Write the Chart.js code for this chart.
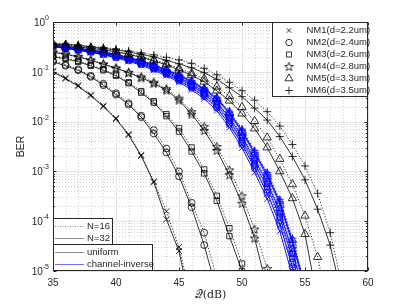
<!DOCTYPE html>
<html>
<head>
<meta charset="utf-8">
<script src="https://cdn.jsdelivr.net/npm/chart.js@4.4.1/dist/chart.umd.min.js"></script>
<style>
  html, body { margin: 0; padding: 0; background: #fff; }
  #wrap { width: 407px; height: 305px; }
</style>
</head>
<body>
<div id="wrap"><canvas id="ber" width="407" height="305"></canvas></div>
<script>
// SNR axis (dB), one point per dB starting at 35
const snr = [35, 36, 37, 38, 39, 40, 41, 42, 43, 44, 45, 46, 47, 48, 49, 50, 51, 52, 53, 54, 55, 56, 57, 58, 59, 60];
const xTicks = [35, 40, 45, 50, 55, 60];
const yDecades = [-5, -4, -3, -2, -1, 0];
const nmNames = ['NM1(d=2.2um)', 'NM2(d=2.4um)', 'NM3(d=2.6um)', 'NM4(d=2.8um)', 'NM5(d=3.3um)', 'NM6(d=3.5um)'];
const sizeNames = ['N=16', 'N=32'];
const schemeNames = ['uniform', 'channel-inverse'];

// log10(BER), uniform allocation
const uniNM1N32 = [-1.00, -1.14, -1.29, -1.48, -1.70, -1.95, -2.27, -2.69, -3.22, -3.96, -4.60, -5.80];
const uniNM1N16 = [-0.98, -1.12, -1.27, -1.46, -1.68, -1.93, -2.25, -2.67, -3.20, -3.80, -4.52, -5.60];
const uniNM2N32 = [-0.80, -0.88, -0.97, -1.10, -1.27, -1.46, -1.66, -1.91, -2.24, -2.62, -3.10, -3.72, -4.48, -5.40];
const uniNM2N16 = [-0.78, -0.86, -0.95, -1.08, -1.24, -1.43, -1.63, -1.88, -2.17, -2.54, -3.00, -3.63, -4.23, -5.15];
const uniNM3N32 = [-0.70, -0.74, -0.80, -0.88, -0.97, -1.08, -1.23, -1.42, -1.62, -1.89, -2.20, -2.60, -3.04, -3.59, -4.30, -5.00, -5.90];
const uniNM3N16 = [-0.68, -0.72, -0.78, -0.86, -0.95, -1.06, -1.21, -1.39, -1.59, -1.85, -2.13, -2.52, -2.96, -3.49, -4.14, -4.85, -5.70];
const uniNM4N32 = [-0.61, -0.65, -0.70, -0.77, -0.85, -0.93, -1.02, -1.12, -1.23, -1.37, -1.57, -1.85, -2.18, -2.58, -3.07, -3.64, -4.34, -5.35];
const uniNM4N16 = [-0.60, -0.64, -0.69, -0.76, -0.84, -0.92, -1.01, -1.10, -1.21, -1.34, -1.53, -1.80, -2.10, -2.50, -2.97, -3.49, -4.16, -4.95, -5.80];
const uniNM5N32 = [-0.45, -0.47, -0.50, -0.53, -0.56, -0.60, -0.65, -0.71, -0.78, -0.86, -0.96, -1.07, -1.20, -1.38, -1.58, -1.84, -2.14, -2.52, -3.00, -3.54, -4.26, -5.60];
const uniNM5N16 = [-0.44, -0.46, -0.49, -0.52, -0.55, -0.59, -0.64, -0.69, -0.76, -0.84, -0.93, -1.03, -1.14, -1.30, -1.49, -1.71, -1.99, -2.32, -2.75, -3.26, -3.89, -4.72, -5.90];
const uniNM6N32 = [-0.44, -0.45, -0.47, -0.50, -0.53, -0.56, -0.60, -0.65, -0.70, -0.77, -0.84, -0.92, -1.02, -1.15, -1.32, -1.50, -1.73, -1.97, -2.30, -2.70, -3.17, -3.76, -4.48, -5.60];
const uniNM6N16 = [-0.43, -0.44, -0.46, -0.49, -0.51, -0.54, -0.58, -0.62, -0.66, -0.71, -0.76, -0.83, -0.93, -1.06, -1.21, -1.38, -1.57, -1.80, -2.09, -2.46, -2.89, -3.44, -4.23, -5.35];

// log10(BER), channel-inverse allocation (the blue bundle)
const invNM1N32 = [-0.49, -0.53, -0.57, -0.61, -0.66, -0.72, -0.79, -0.87, -0.97, -1.08, -1.21, -1.36, -1.54, -1.78, -2.12, -2.53, -3.02, -3.55, -4.20, -5.10, -6.00];
const invNM1N16 = [-0.48, -0.52, -0.56, -0.60, -0.65, -0.71, -0.77, -0.85, -0.95, -1.05, -1.18, -1.33, -1.50, -1.73, -2.06, -2.46, -2.94, -3.45, -4.08, -4.95, -5.90];
const invNM2N32 = [-0.49, -0.53, -0.56, -0.60, -0.65, -0.71, -0.77, -0.85, -0.94, -1.05, -1.18, -1.32, -1.49, -1.72, -2.05, -2.45, -2.93, -3.43, -4.05, -4.92, -5.80];
const invNM2N16 = [-0.48, -0.52, -0.55, -0.59, -0.64, -0.70, -0.76, -0.84, -0.93, -1.03, -1.16, -1.30, -1.46, -1.69, -2.01, -2.41, -2.88, -3.37, -3.98, -4.83, -5.70];
const invNM3N32 = [-0.48, -0.52, -0.55, -0.59, -0.63, -0.69, -0.75, -0.83, -0.92, -1.02, -1.14, -1.28, -1.44, -1.66, -1.98, -2.37, -2.84, -3.31, -3.91, -4.75, -5.60];
const invNM3N16 = [-0.47, -0.51, -0.54, -0.58, -0.62, -0.68, -0.74, -0.82, -0.91, -1.01, -1.12, -1.26, -1.42, -1.63, -1.94, -2.33, -2.79, -3.25, -3.84, -4.66, -5.50];
const invNM4N32 = [-0.48, -0.51, -0.54, -0.58, -0.62, -0.68, -0.74, -0.81, -0.90, -1.00, -1.11, -1.25, -1.40, -1.61, -1.92, -2.30, -2.76, -3.22, -3.80, -4.62, -5.50];
const invNM4N16 = [-0.47, -0.51, -0.54, -0.57, -0.61, -0.67, -0.73, -0.80, -0.89, -0.99, -1.10, -1.23, -1.38, -1.59, -1.89, -2.27, -2.72, -3.17, -3.74, -4.55, -5.45];
const invNM5N32 = [-0.47, -0.50, -0.53, -0.57, -0.61, -0.66, -0.72, -0.79, -0.88, -0.97, -1.08, -1.21, -1.36, -1.55, -1.84, -2.21, -2.65, -3.10, -3.65, -4.45, -5.35];
const invNM5N16 = [-0.46, -0.50, -0.53, -0.56, -0.60, -0.65, -0.71, -0.78, -0.87, -0.96, -1.07, -1.19, -1.34, -1.53, -1.81, -2.18, -2.61, -3.05, -3.60, -4.38, -5.30];
const invNM6N32 = [-0.46, -0.50, -0.53, -0.56, -0.60, -0.65, -0.71, -0.78, -0.86, -0.96, -1.06, -1.19, -1.34, -1.53, -1.82, -2.18, -2.62, -3.06, -3.61, -4.40, -5.30];
const invNM6N16 = [-0.46, -0.49, -0.52, -0.56, -0.60, -0.65, -0.70, -0.77, -0.85, -0.95, -1.05, -1.18, -1.32, -1.51, -1.79, -2.15, -2.58, -3.02, -3.56, -4.34, -5.25];

const uniN16 = [uniNM1N16, uniNM2N16, uniNM3N16, uniNM4N16, uniNM5N16, uniNM6N16];
const uniN32 = [uniNM1N32, uniNM2N32, uniNM3N32, uniNM4N32, uniNM5N32, uniNM6N32];
const invN16 = [invNM1N16, invNM2N16, invNM3N16, invNM4N16, invNM5N16, invNM6N16];
const invN32 = [invNM1N32, invNM2N32, invNM3N32, invNM4N32, invNM5N32, invNM6N32];

const BLACK = '#000000';
const BLUE = '#0000ff';
const AXIS = '#262626';
const FONT = '"Liberation Sans", Arial, Helvetica, sans-serif';

// pentagram marker (matlab 'p')
function starMarker(color) {
  const c = document.createElement('canvas');
  c.width = 11; c.height = 11;
  const g = c.getContext('2d');
  g.strokeStyle = color;
  g.lineWidth = 0.8;
  g.beginPath();
  for (let k = 0; k < 10; k++) {
    const r = k % 2 ? 1.9 : 4.6;
    const t = -Math.PI / 2 + k * Math.PI / 5;
    const px = 5.5 + r * Math.cos(t), py = 5.9 + r * Math.sin(t);
    if (k) g.lineTo(px, py); else g.moveTo(px, py);
  }
  g.closePath();
  g.stroke();
  return c;
}
const starBlack = starMarker(BLACK);
const starBlue = starMarker(BLUE);

const markers = [
  { style: 'crossRot', radius: 4.2 },
  { style: 'circle', radius: 3.4 },
  { style: 'rect', radius: 3.8 },
  { style: 'star', radius: 4 },
  { style: 'triangle', radius: 4.8 },
  { style: 'cross', radius: 4 },
];

const toPoints = exps => exps.map((e, i) => ({ x: snr[i], y: Math.pow(10, e) }));

function series(exps, color, dotted, mk) {
  const star = color === BLUE ? starBlue : starBlack;
  return {
    data: toPoints(exps),
    borderColor: color,
    borderWidth: color === BLUE ? 0.9 : 0.8,
    borderDash: dotted ? [1.2, 1.8] : [],
    pointStyle: mk.style === 'star' ? star : mk.style,
    pointRadius: mk.radius,
    pointBorderColor: color,
    pointBackgroundColor: 'rgba(0,0,0,0)',
    pointBorderWidth: 0.8,
    tension: 0,
    fill: false,
  };
}

const datasets = [];
for (let i = 0; i < 6; i++) {
  datasets.push(series(uniN16[i], BLACK, true, markers[i]));
  datasets.push(series(uniN32[i], BLACK, false, markers[i]));
}
for (let i = 0; i < 6; i++) {
  datasets.push(series(invN16[i], BLUE, true, markers[i]));
  datasets.push(series(invN32[i], BLUE, false, markers[i]));
}

function hline(ctx, x1, x2, y) {
  ctx.beginPath(); ctx.moveTo(x1, y); ctx.lineTo(x2, y); ctx.stroke();
}
function vline(ctx, x, y1, y2) {
  ctx.beginPath(); ctx.moveTo(x, y1); ctx.lineTo(x, y2); ctx.stroke();
}

const frame = {
  id: 'frame',
  beforeDatasetsDraw(chart) {
    const { ctx, chartArea: a, scales: { x, y } } = chart;
    ctx.save();
    ctx.lineWidth = 1;
    // minor grid, dotted
    ctx.strokeStyle = '#cfcfcf';
    ctx.setLineDash([1, 2]);
    for (let v = snr[0] + 1; v < snr[snr.length - 1]; v++) {
      if (v % 5 === 0) continue;
      vline(ctx, Math.round(x.getPixelForValue(v)) + 0.5, a.top, a.bottom);
    }
    for (const d of yDecades.slice(0, -1)) {
      for (let m = 2; m < 10; m++) {
        hline(ctx, a.left, a.right, Math.round(y.getPixelForValue(m * Math.pow(10, d))) + 0.5);
      }
    }
    // major grid
    ctx.setLineDash([]);
    ctx.strokeStyle = '#e3e3e3';
    for (const v of xTicks) vline(ctx, Math.round(x.getPixelForValue(v)) + 0.5, a.top, a.bottom);
    for (const d of yDecades) hline(ctx, a.left, a.right, Math.round(y.getPixelForValue(Math.pow(10, d))) + 0.5);
    ctx.restore();
  },
  afterDatasetsDraw(chart) {
    const { ctx, chartArea: a, scales: { x, y } } = chart;
    const L = Math.round(a.left) + 0.5, R = Math.round(a.right) - 0.5;
    const T = Math.round(a.top) + 0.5, B = Math.round(a.bottom) - 0.5;
    ctx.save();
    ctx.strokeStyle = AXIS;
    ctx.lineWidth = 1;
    // ticks pointing in, all four sides
    for (const v of xTicks) {
      const px = Math.round(x.getPixelForValue(v)) + 0.5;
      vline(ctx, px, B, B - 3); vline(ctx, px, T, T + 3);
    }
    for (const d of yDecades) {
      const py = Math.round(y.getPixelForValue(Math.pow(10, d))) + 0.5;
      hline(ctx, L, L + 3, py); hline(ctx, R, R - 3, py);
      if (d === 0) continue;
      for (let m = 2; m < 10; m++) {
        const q = Math.round(y.getPixelForValue(m * Math.pow(10, d))) + 0.5;
        hline(ctx, L, L + 1.5, q); hline(ctx, R, R - 1.5, q);
      }
    }
    ctx.strokeRect(L, T, R - L, B - T);

    // y tick labels 10^k
    ctx.fillStyle = AXIS;
    ctx.textBaseline = 'middle';
    ctx.textAlign = 'left';
    for (const d of yDecades) {
      const py = y.getPixelForValue(Math.pow(10, d));
      const ex = d === 0 ? '0' : '-' + (-d);
      ctx.font = '7px ' + FONT;
      const ew = ctx.measureText(ex).width;
      ctx.font = '10px ' + FONT;
      const bw = ctx.measureText('10').width;
      const right = a.left - 4;
      ctx.fillText('10', right - ew - bw, py + 1);
      ctx.font = '7px ' + FONT;
      ctx.fillText(ex, right - ew, py - 4);
    }
    // y axis title
    ctx.save();
    ctx.translate(21, (a.top + a.bottom) / 2);
    ctx.rotate(-Math.PI / 2);
    ctx.textAlign = 'center';
    ctx.font = '10.5px ' + FONT;
    ctx.fillText('BER', 0, 0);
    ctx.restore();

    // marker legend, top right
    const lx = 272.5, ly = T, lw = R - lx, lh = 74;
    ctx.fillStyle = '#fff';
    ctx.fillRect(lx, ly, lw, lh);
    ctx.strokeRect(lx, ly, lw, lh);
    ctx.font = '9.5px ' + FONT;
    ctx.textAlign = 'left';
    nmNames.forEach((name, i) => {
      const ry = ly + 8 + i * 12;
      const mk = markers[i];
      ctx.strokeStyle = BLACK;
      ctx.fillStyle = 'rgba(0,0,0,0)';
      ctx.lineWidth = 0.8;
      Chart.helpers.drawPoint(ctx, {
        pointStyle: mk.style === 'star' ? starBlack : mk.style,
        radius: mk.style === 'crossRot' ? 3.2 : mk.radius - 0.2,
        borderWidth: 0.8,
      }, 289, ry);
      ctx.fillStyle = AXIS;
      ctx.fillText(name, 306.5, ry);
    });

    // line-style legends, bottom left
    ctx.lineWidth = 1;
    ctx.strokeStyle = AXIS;
    const b1y = 218.5, b2y = 244.5;
    ctx.fillStyle = '#fff';
    ctx.fillRect(L, b1y, 59, b2y - b1y);
    ctx.strokeRect(L, b1y, 59, b2y - b1y);
    ctx.fillRect(L, b2y, 99, B - b2y);
    ctx.strokeRect(L, b2y, 99, B - b2y);
    const rows = [
      { label: sizeNames[0], color: '#8a8a8a', dash: [1, 1.5], y: 226.5 },
      { label: sizeNames[1], color: '#8a8a8a', dash: [], y: 238.5 },
      { label: schemeNames[0], color: '#8a8a8a', dash: [], y: 252.5 },
      { label: schemeNames[1], color: '#6f6fff', dash: [], y: 264.5 },
    ];
    ctx.font = '9.5px ' + FONT;
    for (const r of rows) {
      ctx.strokeStyle = r.color;
      ctx.setLineDash(r.dash);
      hline(ctx, 55, 84, r.y);
      ctx.setLineDash([]);
      ctx.fillStyle = AXIS;
      ctx.fillText(r.label, 87, r.y);
    }
    ctx.restore();
  },
};

new Chart(document.getElementById('ber'), {
  type: 'line',
  data: { datasets },
  options: {
    responsive: false,
    animation: false,
    devicePixelRatio: 1,
    layout: { padding: { top: 22, right: 39, left: 0, bottom: 0 } },
    plugins: { legend: { display: false }, tooltip: { enabled: false } },
    scales: {
      x: {
        type: 'linear',
        min: 35,
        max: 60,
        grid: { display: false, drawTicks: false },
        border: { display: false },
        ticks: {
          stepSize: 5,
          padding: 6,
          color: AXIS,
          font: { size: 10, family: FONT },
          maxRotation: 0,
        },
        title: {
          display: true,
          text: '𝒬(dB)',
          color: AXIS,
          font: { size: 11, family: '"DejaVu Serif", "Liberation Serif", serif' },
          padding: { top: 0, bottom: 3 },
        },
        afterFit(scale) { scale.height = 34; },
      },
      y: {
        type: 'logarithmic',
        min: 1e-5,
        max: 1,
        grid: { display: false, drawTicks: false },
        border: { display: false },
        ticks: { display: false },
        afterFit(scale) { scale.width = 53; },
      },
    },
  },
  plugins: [frame],
});
</script>
</body>
</html>
